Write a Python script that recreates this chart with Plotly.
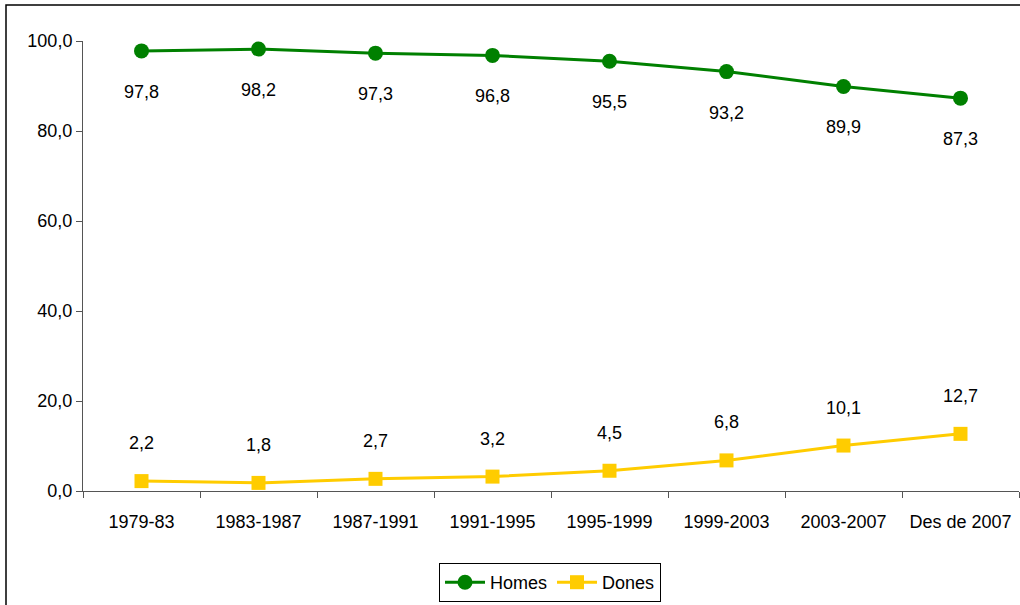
import plotly.graph_objects as go

categories = ["1979-83", "1983-1987", "1987-1991", "1991-1995", "1995-1999", "1999-2003", "2003-2007", "Des de 2007"]
homes = [97.8, 98.2, 97.3, 96.8, 95.5, 93.2, 89.9, 87.3]
dones = [2.2, 1.8, 2.7, 3.2, 4.5, 6.8, 10.1, 12.7]

GREEN = "#008000"
YELLOW = "#FFCC00"
FONT = "Liberation Sans, Arial, sans-serif"

def fmt(v):
    return f"{v:.1f}".replace(".", ",")

fig = go.Figure()
fig.add_trace(go.Scatter(x=categories, y=homes, name="Homes", mode="lines+markers",
                         line=dict(color=GREEN, width=3),
                         marker=dict(symbol="circle", size=15, color=GREEN)))
fig.add_trace(go.Scatter(x=categories, y=dones, name="Dones", mode="lines+markers",
                         line=dict(color=YELLOW, width=3),
                         marker=dict(symbol="square", size=14, color=YELLOW)))

annotations = []
for c, v in zip(categories, homes):
    annotations.append(dict(x=c, y=v, text=fmt(v), showarrow=False, yshift=-41,
                            font=dict(size=18, color="black", family=FONT)))
for c, v in zip(categories, dones):
    annotations.append(dict(x=c, y=v, text=fmt(v), showarrow=False, yshift=38,
                            font=dict(size=18, color="black", family=FONT)))

W, H = 1020, 605
L, R, T, B = 83, 1, 41, 114
pw, ph = W - L - R, H - T - B

def px_x(x):
    return (x - L) / pw

def px_y(y):
    return (H - B - y) / ph

fig.update_layout(
    width=W, height=H,
    margin=dict(l=L, r=R, t=T, b=B),
    paper_bgcolor="white", plot_bgcolor="white",
    separators=",.",
    font=dict(family=FONT, size=18, color="black"),
    annotations=annotations,
    showlegend=True,
    legend=dict(orientation="h", x=px_x(550), xanchor="center", y=px_y(563), yanchor="top",
                bordercolor="black", borderwidth=1, font=dict(size=18, family=FONT),
                itemwidth=40, tracegroupgap=0),
    xaxis=dict(range=[-0.5, 7.5], showgrid=False, showline=True, linecolor="#555555", linewidth=1,
               ticks="outside", tickson="boundaries", ticklen=6, tickcolor="#555555",
               ticklabelstandoff=14,
               tickfont=dict(size=18, family=FONT), zeroline=False),
    yaxis=dict(range=[0, 100], dtick=20, tickformat=".1f", showgrid=False, showline=True,
               linecolor="#555555", linewidth=1, ticks="outside", ticklen=6, tickcolor="#555555",
               tickfont=dict(size=18, family=FONT), zeroline=False),
    shapes=[dict(type="rect", xref="paper", yref="paper",
                 x0=px_x(6), x1=px_x(1030), y0=px_y(615), y1=px_y(5),
                 line=dict(color="black", width=1.5), fillcolor="rgba(0,0,0,0)", layer="below")],
)

fig.write_html("out.html", config={"displayModeBar": False},
               post_script="document.body.style.margin='0';document.body.style.overflow='hidden';")
